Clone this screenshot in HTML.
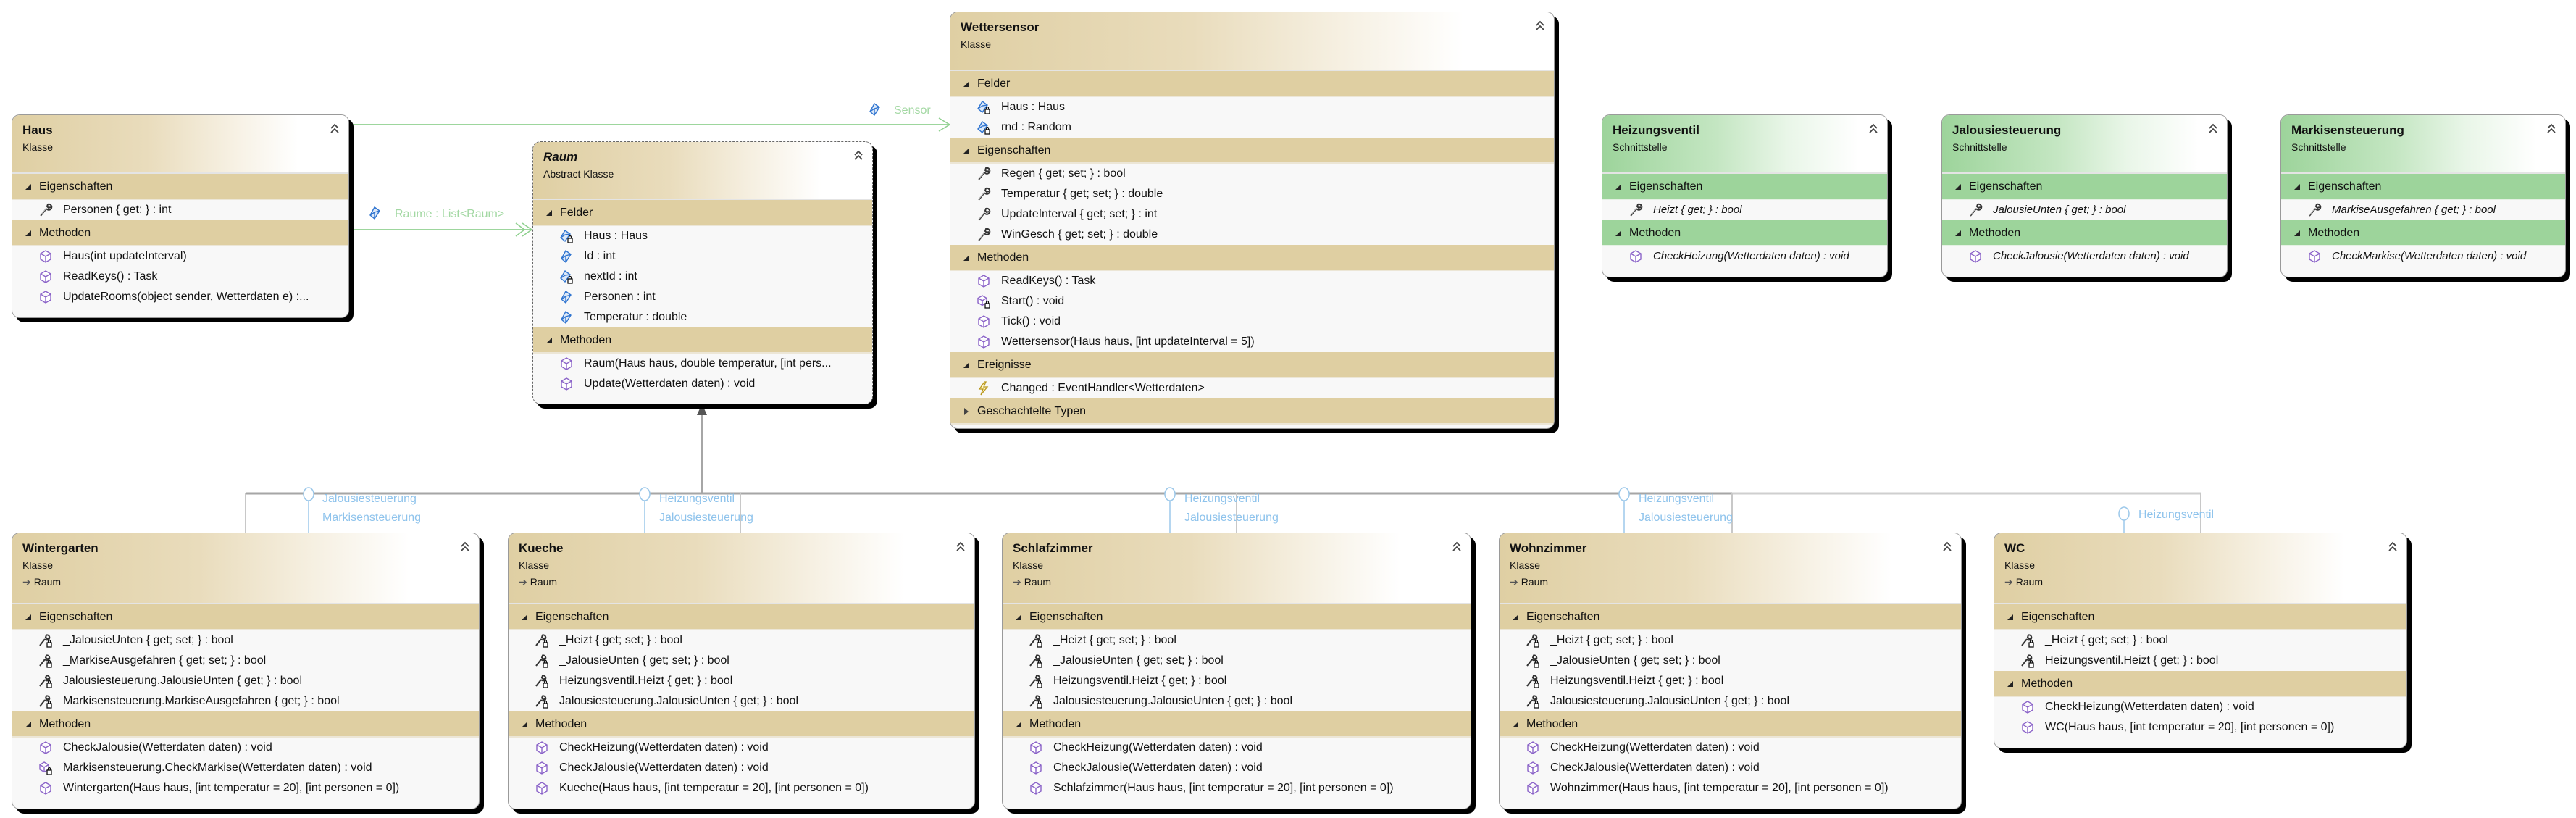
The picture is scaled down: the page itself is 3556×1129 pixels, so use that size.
<!DOCTYPE html>
<html><head><meta charset="utf-8">
<style>
*{box-sizing:border-box;margin:0;padding:0}
body{width:3556px;height:1129px;background:#fff;position:relative;overflow:hidden;font-family:"Liberation Sans",sans-serif;color:#111}
#cn{position:absolute;left:0;top:0;z-index:0}
.b{position:absolute;z-index:1;border:1.5px solid #9a9a9a;border-radius:11px;box-shadow:6px 6px 0 #000;background:#f8f8f8;overflow:hidden;font-size:16px}
.b.d{border:1.5px dashed #666}
.h{height:81px;position:relative;background:linear-gradient(90deg,#dfcfa3 0%,#e9dcbc 40%,#f6f0e2 65%,#fff 85%);border-bottom:2px solid #e4e4e4}
.g .h{background:linear-gradient(90deg,#9dd49b 0%,#c4e6c2 40%,#e9f6e8 65%,#fff 90%)}
.hb{height:98px}
.t{position:absolute;left:14px;top:11px;font-weight:bold;font-size:17px}
.t i{font-style:italic}
.k{position:absolute;left:14px;top:36px;font-size:14px}
.p{position:absolute;left:14px;top:59px;font-size:14px}
.p b{color:#555;font-weight:normal;margin-right:4px}
.cv{position:absolute;right:12px;top:10px}
.s{height:36px;line-height:36px;background:#dfcfa2;padding-left:37px;position:relative;border-bottom:2px solid #ece6d6}
.g .s{background:#9dd49b;border-bottom:2px solid #e4f1e3}
.s:before{content:"";position:absolute;left:18px;top:14px;border-left:8px solid transparent;border-bottom:8px solid #222}
.s.c:before{left:19px;top:13px;border:5px solid transparent;border-left:6px solid #444;border-bottom-color:transparent}
.r{height:28px;line-height:28px;padding-left:70px;position:relative;white-space:nowrap;overflow:hidden}
.g .r{font-style:italic;font-size:15px}
.r svg{position:absolute;left:36px;top:4px;width:20px;height:20px}
</style></head><body>
<svg width="0" height="0" style="position:absolute">
<defs>
<symbol id="f" viewBox="0 0 20 20"><path d="M9 2 L16 7 L9 18 L3 13 Z M3 13 L9 9 L16 7 M9 9 V18" fill="#dde9f8" stroke="#2f74d0" stroke-width="1.4"/></symbol>
<symbol id="fl" viewBox="0 0 20 20"><path d="M8 2 L15 7 L8 17 L2 12 Z M2 12 L8 8 L15 7" fill="#dde9f8" stroke="#2f74d0" stroke-width="1.4"/><rect x="12" y="13" width="6" height="6" fill="#fff" stroke="#111" stroke-width="1.3"/><path d="M13.5 13 V11 a1.5 1.5 0 0 1 3 0 V13" fill="none" stroke="#111" stroke-width="1.2"/></symbol>
<symbol id="m" viewBox="0 0 20 20"><path d="M10 2 L17 6 V14 L10 18 L3 14 V6 Z M3 6 L10 10 L17 6 M10 10 V18" fill="#fff" stroke="#8a62c8" stroke-width="1.4"/></symbol>
<symbol id="ml" viewBox="0 0 20 20"><path d="M8 2 L14 5.5 V12 L8 15.5 L2 12 V5.5 Z M2 5.5 L8 9 L14 5.5 M8 9 V15.5" fill="#fff" stroke="#8a62c8" stroke-width="1.4"/><rect x="12" y="13" width="6" height="6" fill="#fff" stroke="#111" stroke-width="1.3"/><path d="M13.5 13 V11 a1.5 1.5 0 0 1 3 0 V13" fill="none" stroke="#111" stroke-width="1.2"/></symbol>
<symbol id="w" viewBox="0 0 20 20"><path d="M3 18 L11 8 M11 8 a4 4 0 1 0 2 -6 l-1 3 l2 2 l3 -1" fill="none" stroke="#333" stroke-width="2"/><path d="M2.5 17.5 L10 8.5" stroke="#bbb" stroke-width="1"/></symbol>
<symbol id="wl" viewBox="0 0 20 20"><path d="M2 17 L9 8 M9 8 a3.5 3.5 0 1 0 2 -5.5 l-1 3 l2 2 l3 -1" fill="none" stroke="#333" stroke-width="2"/><rect x="12" y="13" width="6" height="6" fill="#fff" stroke="#111" stroke-width="1.3"/><path d="M13.5 13 V11 a1.5 1.5 0 0 1 3 0 V13" fill="none" stroke="#111" stroke-width="1.2"/></symbol>
<symbol id="e" viewBox="0 0 20 20"><path d="M11 1 L4 11 H9 L6 19 L15 8 H10 L13 1 Z" fill="#fff6c8" stroke="#b8961a" stroke-width="1.3"/></symbol>
<symbol id="cv" viewBox="0 0 14 16"><path d="M2 8 L7 3 L12 8 M2 14 L7 9 L12 14" fill="none" stroke="#444" stroke-width="1.8"/></symbol>
</defs></svg>

<svg id="cn" width="3556" height="1129">
<!-- Sensor -->
<line x1="482" y1="172" x2="1311" y2="172" stroke="#8fd08f" stroke-width="1.8"/>
<polyline points="1296,163 1311,172 1296,181" fill="none" stroke="#8fd08f" stroke-width="1.5"/>
<use href="#f" x="1198" y="140" width="20" height="22"/>
<text x="1234" y="157" font-family="Liberation Sans,sans-serif" font-size="16" fill="#a3d8a3">Sensor</text>
<!-- Raume -->
<line x1="482" y1="317" x2="735" y2="317" stroke="#8fd08f" stroke-width="1.8"/>
<polyline points="712,308 724,317 712,326" fill="none" stroke="#8fd08f" stroke-width="1.5"/>
<polyline points="721,308 734,317 721,326" fill="none" stroke="#8fd08f" stroke-width="1.5"/>
<use href="#f" x="508" y="283" width="20" height="22"/>
<text x="545" y="300" font-family="Liberation Sans,sans-serif" font-size="16" fill="#a3d8a3">Raume : List&lt;Raum&gt;</text>
<!-- inheritance -->
<line x1="339" y1="681" x2="2391" y2="681" stroke="#a6a6a6" stroke-width="3"/>
<line x1="2391" y1="681" x2="3038" y2="681" stroke="#cfcfcf" stroke-width="3"/>
<line x1="969" y1="681" x2="969" y2="570" stroke="#a6a6a6" stroke-width="2"/>
<polygon points="969,557 962,573 976,573" fill="#555"/>
<g stroke="#c8c8c8" stroke-width="2">
<line x1="339" y1="681" x2="339" y2="736"/><line x1="1022" y1="681" x2="1022" y2="736"/>
<line x1="1707" y1="681" x2="1707" y2="736"/><line x1="2391" y1="681" x2="2391" y2="736"/>
<line x1="3038" y1="681" x2="3038" y2="736"/>
</g>
<g stroke="#9cc8ea" stroke-width="1.5" fill="#fff">
<line x1="426" y1="691" x2="426" y2="736"/><ellipse cx="426" cy="682" rx="7" ry="9"/>
<line x1="890" y1="691" x2="890" y2="736"/><ellipse cx="890" cy="682" rx="7" ry="9"/>
<line x1="1615" y1="691" x2="1615" y2="736"/><ellipse cx="1615" cy="682" rx="7" ry="9"/>
<line x1="2242" y1="691" x2="2242" y2="736"/><ellipse cx="2242" cy="682" rx="7" ry="9"/>
<line x1="2932" y1="718" x2="2932" y2="736"/><ellipse cx="2932" cy="709" rx="7" ry="9"/>
</g>
<g font-family="Liberation Sans,sans-serif" font-size="16" fill="#8ec3ec">
<text x="445" y="693">Jalousiesteuerung</text><text x="445" y="719">Markisensteuerung</text>
<text x="910" y="693">Heizungsventil</text><text x="910" y="719">Jalousiesteuerung</text>
<text x="1635" y="693">Heizungsventil</text><text x="1635" y="719">Jalousiesteuerung</text>
<text x="2262" y="693">Heizungsventil</text><text x="2262" y="719">Jalousiesteuerung</text>
<text x="2952" y="715">Heizungsventil</text>
</g>
</svg>

<!-- Haus -->
<div class="b" style="left:16px;top:158px;width:466px;height:281px">
<div class="h"><div class="t">Haus</div><div class="k">Klasse</div><svg class="cv" width="14" height="16"><use href="#cv"/></svg></div>
<div class="s">Eigenschaften</div>
<div class="r"><svg><use href="#w"/></svg>Personen { get; } : int</div>
<div class="s">Methoden</div>
<div class="r"><svg><use href="#m"/></svg>Haus(int updateInterval)</div>
<div class="r"><svg><use href="#m"/></svg>ReadKeys() : Task</div>
<div class="r"><svg><use href="#m"/></svg>UpdateRooms(object sender, Wetterdaten e) :...</div>
</div>

<!-- Raum -->
<div class="b d" style="left:735px;top:195px;width:470px;height:363px">
<div class="h" style="height:80px"><div class="t"><i>Raum</i></div><div class="k">Abstract Klasse</div><svg class="cv" width="14" height="16"><use href="#cv"/></svg></div>
<div class="s">Felder</div>
<div class="r"><svg><use href="#fl"/></svg>Haus : Haus</div>
<div class="r"><svg><use href="#f"/></svg>Id : int</div>
<div class="r"><svg><use href="#fl"/></svg>nextId : int</div>
<div class="r"><svg><use href="#f"/></svg>Personen : int</div>
<div class="r"><svg><use href="#f"/></svg>Temperatur : double</div>
<div class="s">Methoden</div>
<div class="r"><svg><use href="#m"/></svg>Raum(Haus haus, double temperatur, [int pers...</div>
<div class="r"><svg><use href="#m"/></svg>Update(Wetterdaten daten) : void</div>
</div>

<!-- Wettersensor -->
<div class="b" style="left:1311px;top:16px;width:835px;height:576px">
<div class="h"><div class="t">Wettersensor</div><div class="k">Klasse</div><svg class="cv" width="14" height="16"><use href="#cv"/></svg></div>
<div class="s">Felder</div>
<div class="r"><svg><use href="#fl"/></svg>Haus : Haus</div>
<div class="r"><svg><use href="#fl"/></svg>rnd : Random</div>
<div class="s">Eigenschaften</div>
<div class="r"><svg><use href="#w"/></svg>Regen { get; set; } : bool</div>
<div class="r"><svg><use href="#w"/></svg>Temperatur { get; set; } : double</div>
<div class="r"><svg><use href="#w"/></svg>UpdateInterval { get; set; } : int</div>
<div class="r"><svg><use href="#w"/></svg>WinGesch { get; set; } : double</div>
<div class="s">Methoden</div>
<div class="r"><svg><use href="#m"/></svg>ReadKeys() : Task</div>
<div class="r"><svg><use href="#ml"/></svg>Start() : void</div>
<div class="r"><svg><use href="#m"/></svg>Tick() : void</div>
<div class="r"><svg><use href="#m"/></svg>Wettersensor(Haus haus, [int updateInterval = 5])</div>
<div class="s">Ereignisse</div>
<div class="r"><svg><use href="#e"/></svg>Changed : EventHandler&lt;Wetterdaten&gt;</div>
<div class="s c">Geschachtelte Typen</div>
</div>

<!-- Interfaces -->
<div class="b g" style="left:2211px;top:158px;width:395px;height:225px">
<div class="h"><div class="t">Heizungsventil</div><div class="k">Schnittstelle</div><svg class="cv" width="14" height="16"><use href="#cv"/></svg></div>
<div class="s">Eigenschaften</div>
<div class="r"><svg><use href="#w"/></svg>Heizt { get; } : bool</div>
<div class="s">Methoden</div>
<div class="r"><svg><use href="#m"/></svg>CheckHeizung(Wetterdaten daten) : void</div>
</div>
<div class="b g" style="left:2680px;top:158px;width:395px;height:225px">
<div class="h"><div class="t">Jalousiesteuerung</div><div class="k">Schnittstelle</div><svg class="cv" width="14" height="16"><use href="#cv"/></svg></div>
<div class="s">Eigenschaften</div>
<div class="r"><svg><use href="#w"/></svg>JalousieUnten { get; } : bool</div>
<div class="s">Methoden</div>
<div class="r"><svg><use href="#m"/></svg>CheckJalousie(Wetterdaten daten) : void</div>
</div>
<div class="b g" style="left:3148px;top:158px;width:394px;height:225px">
<div class="h"><div class="t">Markisensteuerung</div><div class="k">Schnittstelle</div><svg class="cv" width="14" height="16"><use href="#cv"/></svg></div>
<div class="s">Eigenschaften</div>
<div class="r"><svg><use href="#w"/></svg>MarkiseAusgefahren { get; } : bool</div>
<div class="s">Methoden</div>
<div class="r"><svg><use href="#m"/></svg>CheckMarkise(Wetterdaten daten) : void</div>
</div>

<!-- Wintergarten -->
<div class="b" style="left:16px;top:735px;width:646px;height:382px">
<div class="h hb"><div class="t">Wintergarten</div><div class="k">Klasse</div><div class="p"><b>➔</b>Raum</div><svg class="cv" width="14" height="16"><use href="#cv"/></svg></div>
<div class="s">Eigenschaften</div>
<div class="r"><svg><use href="#wl"/></svg>_JalousieUnten { get; set; } : bool</div>
<div class="r"><svg><use href="#wl"/></svg>_MarkiseAusgefahren { get; set; } : bool</div>
<div class="r"><svg><use href="#wl"/></svg>Jalousiesteuerung.JalousieUnten { get; } : bool</div>
<div class="r"><svg><use href="#wl"/></svg>Markisensteuerung.MarkiseAusgefahren { get; } : bool</div>
<div class="s">Methoden</div>
<div class="r"><svg><use href="#m"/></svg>CheckJalousie(Wetterdaten daten) : void</div>
<div class="r"><svg><use href="#ml"/></svg>Markisensteuerung.CheckMarkise(Wetterdaten daten) : void</div>
<div class="r"><svg><use href="#m"/></svg>Wintergarten(Haus haus, [int temperatur = 20], [int personen = 0])</div>
</div>

<!-- Kueche -->
<div class="b" style="left:701px;top:735px;width:645px;height:382px">
<div class="h hb"><div class="t">Kueche</div><div class="k">Klasse</div><div class="p"><b>➔</b>Raum</div><svg class="cv" width="14" height="16"><use href="#cv"/></svg></div>
<div class="s">Eigenschaften</div>
<div class="r"><svg><use href="#wl"/></svg>_Heizt { get; set; } : bool</div>
<div class="r"><svg><use href="#wl"/></svg>_JalousieUnten { get; set; } : bool</div>
<div class="r"><svg><use href="#wl"/></svg>Heizungsventil.Heizt { get; } : bool</div>
<div class="r"><svg><use href="#wl"/></svg>Jalousiesteuerung.JalousieUnten { get; } : bool</div>
<div class="s">Methoden</div>
<div class="r"><svg><use href="#m"/></svg>CheckHeizung(Wetterdaten daten) : void</div>
<div class="r"><svg><use href="#m"/></svg>CheckJalousie(Wetterdaten daten) : void</div>
<div class="r"><svg><use href="#m"/></svg>Kueche(Haus haus, [int temperatur = 20], [int personen = 0])</div>
</div>

<!-- Schlafzimmer -->
<div class="b" style="left:1383px;top:735px;width:648px;height:382px">
<div class="h hb"><div class="t">Schlafzimmer</div><div class="k">Klasse</div><div class="p"><b>➔</b>Raum</div><svg class="cv" width="14" height="16"><use href="#cv"/></svg></div>
<div class="s">Eigenschaften</div>
<div class="r"><svg><use href="#wl"/></svg>_Heizt { get; set; } : bool</div>
<div class="r"><svg><use href="#wl"/></svg>_JalousieUnten { get; set; } : bool</div>
<div class="r"><svg><use href="#wl"/></svg>Heizungsventil.Heizt { get; } : bool</div>
<div class="r"><svg><use href="#wl"/></svg>Jalousiesteuerung.JalousieUnten { get; } : bool</div>
<div class="s">Methoden</div>
<div class="r"><svg><use href="#m"/></svg>CheckHeizung(Wetterdaten daten) : void</div>
<div class="r"><svg><use href="#m"/></svg>CheckJalousie(Wetterdaten daten) : void</div>
<div class="r"><svg><use href="#m"/></svg>Schlafzimmer(Haus haus, [int temperatur = 20], [int personen = 0])</div>
</div>

<!-- Wohnzimmer -->
<div class="b" style="left:2069px;top:735px;width:639px;height:382px">
<div class="h hb"><div class="t">Wohnzimmer</div><div class="k">Klasse</div><div class="p"><b>➔</b>Raum</div><svg class="cv" width="14" height="16"><use href="#cv"/></svg></div>
<div class="s">Eigenschaften</div>
<div class="r"><svg><use href="#wl"/></svg>_Heizt { get; set; } : bool</div>
<div class="r"><svg><use href="#wl"/></svg>_JalousieUnten { get; set; } : bool</div>
<div class="r"><svg><use href="#wl"/></svg>Heizungsventil.Heizt { get; } : bool</div>
<div class="r"><svg><use href="#wl"/></svg>Jalousiesteuerung.JalousieUnten { get; } : bool</div>
<div class="s">Methoden</div>
<div class="r"><svg><use href="#m"/></svg>CheckHeizung(Wetterdaten daten) : void</div>
<div class="r"><svg><use href="#m"/></svg>CheckJalousie(Wetterdaten daten) : void</div>
<div class="r"><svg><use href="#m"/></svg>Wohnzimmer(Haus haus, [int temperatur = 20], [int personen = 0])</div>
</div>

<!-- WC -->
<div class="b" style="left:2752px;top:735px;width:571px;height:298px">
<div class="h hb"><div class="t">WC</div><div class="k">Klasse</div><div class="p"><b>➔</b>Raum</div><svg class="cv" width="14" height="16"><use href="#cv"/></svg></div>
<div class="s">Eigenschaften</div>
<div class="r"><svg><use href="#wl"/></svg>_Heizt { get; set; } : bool</div>
<div class="r"><svg><use href="#wl"/></svg>Heizungsventil.Heizt { get; } : bool</div>
<div class="s">Methoden</div>
<div class="r"><svg><use href="#m"/></svg>CheckHeizung(Wetterdaten daten) : void</div>
<div class="r"><svg><use href="#m"/></svg>WC(Haus haus, [int temperatur = 20], [int personen = 0])</div>
</div>
</body></html>
